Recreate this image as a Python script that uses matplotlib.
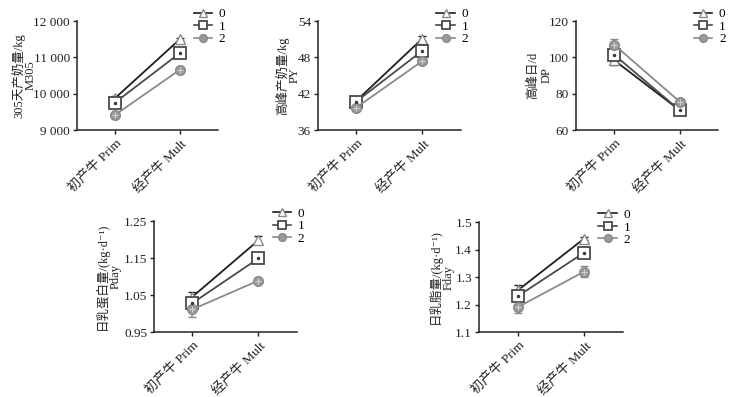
import matplotlib
matplotlib.use("Agg")
import matplotlib.pyplot as plt
from matplotlib.lines import Line2D
from matplotlib.ticker import FuncFormatter

plt.rcParams['font.family'] = ['Liberation Serif', 'Noto Sans CJK SC', 'DejaVu Sans']
plt.rcParams['font.size'] = 9

categories = ["初产牛 Prim", "经产牛 Mult"]
groups = ["0", "1", "2"]

# M305
m305_means = {"0": [9870, 11500], "1": [9750, 11120], "2": [9410, 10660]}
m305_err = {"0": [60, 40], "1": [60, 50], "2": [70, 50]}
# PY
py_means = {"0": [40.8, 51.1], "1": [40.7, 49.1], "2": [39.7, 47.4]}
py_err = {"0": [0.3, 0.4], "1": [0.3, 0.3], "2": [0.3, 0.2]}
# DP
dp_means = {"0": [98.5, 70.8], "1": [101.5, 70.8], "2": [107.0, 75.5]}
dp_err = {"0": [2.5, 0.8], "1": [2.5, 0.8], "2": [3.0, 0.8]}
# Pday
pday_means = {"0": [1.045, 1.198], "1": [1.028, 1.149], "2": [1.011, 1.089]}
pday_err = {"0": [0.013, 0.011], "1": [0.010, 0.006], "2": [0.020, 0.007]}
# Fday
fday_means = {"0": [1.251, 1.440], "1": [1.230, 1.389], "2": [1.190, 1.320]}
fday_err = {"0": [0.020, 0.005], "1": [0.020, 0.018], "2": [0.020, 0.020]}

panels = [
    dict(means=m305_means, err=m305_err, ylabel=("305天产奶量/kg", "M305"),
         ylim=(9000, 12000), ticks=[9000, 10000, 11000, 12000], fmt="thousand",
         rect=[0.1056, 0.6725, 0.193, 0.2745], lab_px=(59, 46)),
    dict(means=py_means, err=py_err, ylabel=("高峰产奶量/kg", "PY"),
         ylim=(36, 54), ticks=[36, 42, 48, 54], fmt="int",
         rect=[0.436, 0.6725, 0.196, 0.2745], lab_px=(36, 23)),
    dict(means=dp_means, err=dp_err, ylabel=("高峰日/d", "DP"),
         ylim=(60, 120), ticks=[60, 80, 100, 120], fmt="int",
         rect=[0.790, 0.6725, 0.195, 0.2745], lab_px=(43, 29)),
    dict(means=pday_means, err=pday_err, ylabel=("日乳蛋白量/(kg·d⁻¹)", "Pday"),
         ylim=(0.95, 1.25), ticks=[0.95, 1.05, 1.15, 1.25], fmt="2f",
         rect=[0.2112, 0.1637, 0.196, 0.2796], lab_px=(52, 38)),
    dict(means=fday_means, err=fday_err, ylabel=("日乳脂量/(kg·d⁻¹)", "Fday"),
         ylim=(1.1, 1.5), ticks=[1.1, 1.2, 1.3, 1.4, 1.5], fmt="1f",
         rect=[0.657, 0.1637, 0.1975, 0.277], lab_px=(44, 30.5)),
]

line_colors = {"0": "#1e1e1e", "1": "#4a4a4a", "2": "#8a8a8a"}
styles = {
    "0": dict(marker="^", mfc="white", mec="#8a8a8a", ms=7, mew=1.0),
    "1": dict(marker="s", mfc="white", mec="#4a4a4a", ms=8, mew=1.3),
    "2": dict(marker="o", mfc="#9a9a9a", mec="#8a8a8a", ms=7, mew=1.0),
}
inner = {"0": None, "1": dict(marker=".", color="#3a3a3a", ms=3),
         "2": dict(marker="+", color="#d0d0d0", ms=5, mew=0.8)}


def fmt_thousand(v, pos):
    return f"{int(round(v)):,}".replace(",", " ")


fig = plt.figure(figsize=(7.29, 3.97), dpi=100)
xs = [0, 1]
for p in panels:
    ax = fig.add_axes(p["rect"])
    for g in groups:
        ax.errorbar(xs, p["means"][g], yerr=p["err"][g], color=line_colors[g],
                    ecolor=line_colors[g], elinewidth=1.2, capsize=3, capthick=1.2,
                    lw=1.3, zorder=3, **styles[g])
        if inner[g] is not None:
            ax.plot(xs, p["means"][g], ls="none", zorder=4, **inner[g])
    ax.set_xlim(-0.58, 1.58)
    ax.set_ylim(*p["ylim"])
    ax.set_yticks(p["ticks"])
    if p["fmt"] == "thousand":
        ax.yaxis.set_major_formatter(FuncFormatter(fmt_thousand))
    elif p["fmt"] == "int":
        ax.yaxis.set_major_formatter(FuncFormatter(lambda v, pos: f"{int(round(v))}"))
    elif p["fmt"] == "2f":
        ax.yaxis.set_major_formatter(FuncFormatter(lambda v, pos: f"{v:.2f}"))
    else:
        ax.yaxis.set_major_formatter(FuncFormatter(lambda v, pos: f"{v:.1f}"))
    ax.set_xticks(xs)
    ax.set_xticklabels(categories, rotation=45, ha="right", rotation_mode="anchor")
    ax.spines["top"].set_visible(False)
    ax.spines["right"].set_visible(False)
    for s in ("left", "bottom"):
        ax.spines[s].set_linewidth(1.1)
        ax.spines[s].set_color("#222222")
    ax.tick_params(direction="out", length=3, width=1.0, colors="#222222",
                   labelsize=9.5, pad=2)
    ax.tick_params(axis="x", labelsize=9.5, pad=2)
    for txt, px in zip(p["ylabel"], p["lab_px"]):
        ax.annotate(txt, xy=(0, 0.5), xycoords="axes fraction",
                    xytext=(-px * 0.72, 0), textcoords="offset points",
                    rotation=90, ha="center", va="center", fontsize=9,
                    color="#222222")
    handles = [Line2D([0], [0], color=line_colors[g], lw=1.2,
                      **{**styles[g], "ms": styles[g]["ms"] * 0.8}) for g in groups]
    ax.legend(handles, groups, loc="upper left", bbox_to_anchor=(0.83, 1.12),
              frameon=False, handlelength=1.4, handletextpad=0.5,
              labelspacing=0.02, borderaxespad=0, fontsize=9.5, borderpad=0)

fig.savefig("out.png", dpi=100)
